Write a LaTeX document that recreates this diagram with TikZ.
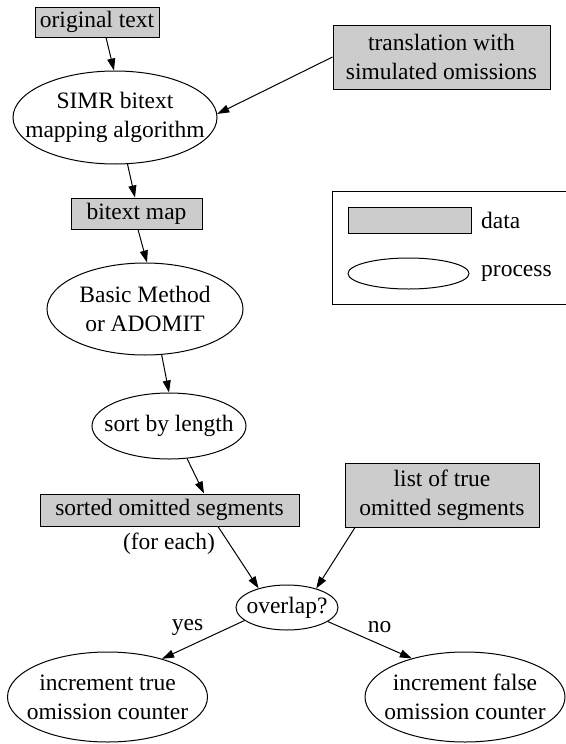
\documentclass[tikz,border=0pt]{standalone}
\usepackage{fontspec}
\setmainfont{Liberation Serif}
\usetikzlibrary{shapes.geometric,arrows.meta}
\definecolor{boxgray}{RGB}{204,204,204}
\tikzset{
  txtfont/.style={font=\fontsize{23.5}{29}\selectfont},
  databox/.style={draw=black, fill=boxgray, line width=1pt, rectangle, inner sep=0pt, align=center, txtfont},
  procell/.style={draw=black, line width=1pt, ellipse, inner sep=0pt},
  intext/.style={inner sep=0pt, align=center, txtfont},
  lbl/.style={inner sep=0pt, txtfont},
  flow/.style={draw=black, line width=1pt, -{Triangle[length=12pt,width=8pt]}}
}
\begin{document}
\begin{tikzpicture}[x=1pt,y=-1pt]
\useasboundingbox (0,0) rectangle (565,744);
% data and process nodes
\node[databox, minimum width=124pt, minimum height=30pt] (orig) at (97,22) {original text};
\node[procell, minimum width=204pt, minimum height=93pt, label={[intext]center:{SIMR bitext\\mapping algorithm}}] (simr) at (115,117.5) {};
\node[databox, minimum width=217pt, minimum height=64pt] (trans) at (441.5,57) {translation with\\simulated omissions};
\node[databox, minimum width=131pt, minimum height=31pt] (bmap) at (136.5,213.5) {bitext map};
\node[procell, minimum width=196pt, minimum height=92pt, label={[intext]center:{Basic Method\\or ADOMIT}}] (basic) at (145,309) {};
\node[procell, minimum width=154pt, minimum height=66pt, label={[intext]center:{sort by length}}] (sort) at (169,426) {};
\node[databox, minimum width=259pt, minimum height=32pt] (sorted) at (169.5,510) {sorted omitted segments};
\node[databox, minimum width=194pt, minimum height=64pt] (truelist) at (442,495) {list of true\\omitted segments};
\node[procell, minimum width=102pt, minimum height=45pt, label={[intext]center:{overlap?}}] (ovl) at (287,607.5) {};
\node[procell, minimum width=200pt, minimum height=90pt, label={[intext]center:{increment true\\omission counter}}] (inctrue) at (107.5,697) {};
\node[procell, minimum width=200pt, minimum height=90pt, label={[intext]center:{increment false\\omission counter}}] (incfalse) at (465,697) {};
% labels
\node[lbl] (foreach) at (169,544) {(for each)};
\node[lbl] (yes) at (187.5,627) {yes};
\node[lbl] (no) at (379.5,627) {no};
% legend
\node[draw=black, line width=1pt, rectangle, inner sep=0pt, minimum width=240pt, minimum height=113pt] (legend) at (452,247.5) {};
\node[draw=black, fill=boxgray, line width=1pt, rectangle, inner sep=0pt, minimum width=123pt, minimum height=26pt] (legdata) at (409.5,220) {};
\node[lbl, anchor=west] (legdatatxt) at (481,220) {data};
\node[procell, minimum width=121pt, minimum height=31pt] (legproc) at (408.5,273.5) {};
\node[lbl, anchor=west] (legproctxt) at (481,273.5) {process};
% connectors
\draw[flow] ([xshift=9pt]orig.south) -- ([xshift=-1pt]simr.north);
\draw[flow] (trans.west) -- (simr.2);
\draw[flow] (simr.-75.5) -- ([xshift=-1.5pt]bmap.north);
\draw[flow] ([xshift=1.5pt]bmap.south) -- ([xshift=2pt]basic.north);
\draw[flow] (basic.-70) -- (sort.north);
\draw[flow] (sort.-61) -- ([xshift=34.5pt]sorted.north);
\draw[flow] ([xshift=48.5pt]sorted.south) -- (ovl.146);
\draw[flow] ([xshift=-87pt]truelist.south) -- (ovl.33);
\draw[flow] (ovl.197) -- (inctrue.35);
\draw[flow] (ovl.-19) -- (incfalse.144);
\end{tikzpicture}
\end{document}
